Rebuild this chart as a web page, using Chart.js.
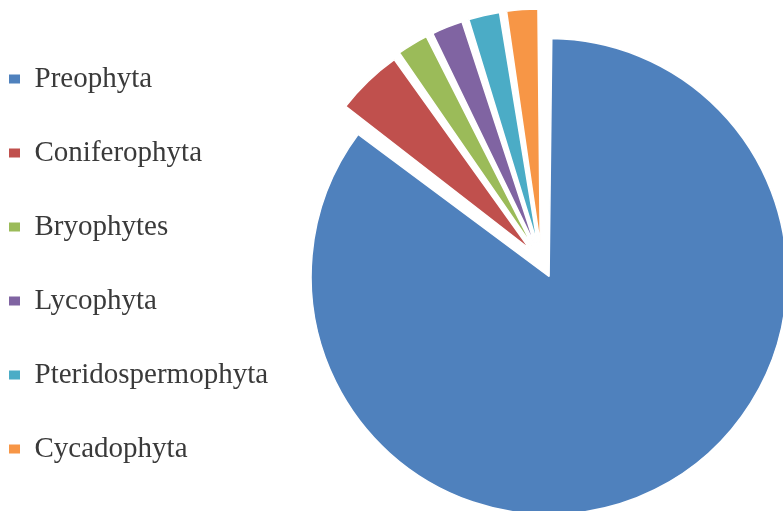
<!DOCTYPE html>
<html>
<head>
<meta charset="utf-8">
<script src="https://cdn.jsdelivr.net/npm/chart.js@4/dist/chart.umd.min.js"></script>
<style>
    html, body { margin: 0; padding: 0; background: #fff; overflow: hidden; }
    /* canvas a bit wider than the view so the pie runs off the right edge */
    #wrap { width: 783px; height: 511px; overflow: hidden; }
    canvas { display: block; }
</style>
</head>
<body>
<div id="wrap">
    <canvas id="pie" width="805" height="511"></canvas>
</div>
<script>
// values (slice angles ~ 35 : 2 : 1 : 1 : 1 : 1)
const categories = ['Preophyta', 'Coniferophyta', 'Bryophytes', 'Lycophyta', 'Pteridospermophyta', 'Cycadophyta'];
const counts = [35, 2, 1, 1, 1, 1];
const sliceColors = ['#4F81BD', '#C0504D', '#9BBB59', '#8064A2', '#4BACC6', '#F79646'];

const baseLabels = Chart.overrides.doughnut.plugins.legend.labels.generateLabels;

new Chart(document.getElementById('pie'), {
    type: 'pie',
    data: {
        labels: categories,
        datasets: [{
            data: counts,
            backgroundColor: sliceColors,
            borderColor: '#ffffff',
            borderWidth: 1.5,
            offset: 68,          // every slice pulled out a little, like the original
        }]
    },
    options: {
        responsive: false,
        animation: false,
        radius: 221,
        layout: { padding: { left: -36, right: 0, top: 13.5, bottom: 2 } },
        plugins: {
            tooltip: { enabled: false },
            legend: {
                position: 'left',
                align: 'start',
                // empty title only used as a small spacer above the items
                title: { display: true, text: ' ', padding: 0, font: { size: 5, lineHeight: 1.2 } },
                labels: {
                    boxWidth: 11,
                    boxHeight: 9,
                    padding: 45,
                    color: '#3a3a3a',
                    font: { family: '"Liberation Serif", "Times New Roman", serif', size: 29 },
                    // no white outline round the legend squares
                    generateLabels: (chart) => baseLabels(chart).map(item => ({ ...item, lineWidth: 0 }))
                }
            }
        }
    }
});
</script>
</body>
</html>
